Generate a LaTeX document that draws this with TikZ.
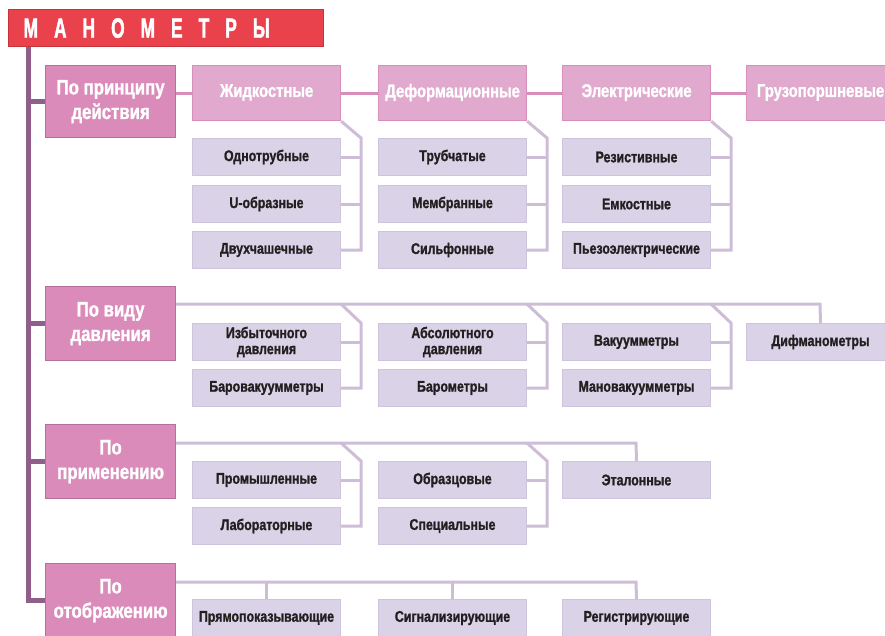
\documentclass[tikz,border=0pt]{standalone}
\usepackage{fontspec}
\setmainfont{Liberation Sans}[FakeStretch=0.8, BoldFeatures={FakeBold=1.2}]
\newfontfamily\titlefont{Liberation Sans}[FakeStretch=0.62, BoldFeatures={FakeBold=1.5}]
\usetikzlibrary{backgrounds}
\definecolor{titleF}{HTML}{E9424C}
\definecolor{titleB}{HTML}{C8323C}
\definecolor{catF}{HTML}{DB8BBA}
\definecolor{catB}{HTML}{B5709B}
\definecolor{typF}{HTML}{E0A9CD}
\definecolor{typB}{HTML}{D98FBB}
\definecolor{typL}{HTML}{D98DBA}
\definecolor{subF}{HTML}{DAD3E7}
\definecolor{subB}{HTML}{CEC4DE}
\definecolor{subL}{HTML}{CDBDD7}
\definecolor{trunkC}{HTML}{8F5F8A}
\definecolor{subT}{HTML}{231F20}
\newcommand\ls{\hspace{16pt}}
\tikzset{
  titlebox/.style={draw=titleB, fill=titleF, line width=1.2pt, minimum width=315pt, minimum height=37pt,
    anchor=north west, inner xsep=15pt, inner ysep=0pt, text width=285pt, align=left, text=white,
    font=\titlefont\bfseries\fontsize{28}{28}\selectfont},
  catbox/.style={draw=catB, fill=catF, line width=1.2pt, minimum width=130pt, minimum height=74pt,
    anchor=north west, inner sep=0pt, text=white, align=center,
    font=\bfseries\fontsize{21}{24.5}\selectfont},
  typbox/.style={draw=typB, fill=typF, line width=1.2pt, minimum width=148pt, minimum height=55pt,
    anchor=north west, inner sep=0pt, text=white, font=\bfseries\fontsize{18.5}{18}\selectfont},
  subbox/.style={draw=subB, fill=subF, line width=1pt, minimum width=148pt, minimum height=37pt,
    anchor=north west, inner sep=0pt, text=subT, align=center,
    font=\bfseries\fontsize{15.5}{16}\selectfont},
  trunk/.style={draw=trunkC, line width=5pt},
  tline/.style={draw=typL, line width=3pt},
  sline/.style={draw=subL, line width=3pt},
}
\begin{document}
\begin{tikzpicture}[x=1pt,y=-1pt]
\useasboundingbox (0,0) rectangle (885,635);
\clip (0,0) rectangle (885,635);

\node[titlebox] (title) at (8,9) {М\ls А\ls Н\ls О\ls М\ls Е\ls Т\ls Р\ls Ы};

% categories
\node[catbox, minimum height=72pt] (c1) at (45,65) {По принципу\\действия};
\node[catbox] (c2) at (45,286) {По виду\\давления};
\node[catbox] (c3) at (45,424) {По\\применению};
\node[catbox] (c4) at (45,563) {По\\отображению};

% section 1
\node[typbox] (t1) at (192,65) {\raisebox{5pt}{Жидкостные}};
\node[typbox] (t2) at (378,65) {\raisebox{5pt}{Деформационные}};
\node[typbox] (t3) at (562,65) {\raisebox{5pt}{Электрические}};
\node[typbox] (t4) at (746,65) {\raisebox{5pt}{Грузопоршневые}};

\node[subbox] (z11) at (192,138) {Однотрубные};
\node[subbox] (z12) at (192,185) {U-образные};
\node[subbox] (z13) at (192,231) {Двухчашечные};
\node[subbox] (z21) at (378,138) {Трубчатые};
\node[subbox] (z22) at (378,185) {Мембранные};
\node[subbox] (z23) at (378,231) {Сильфонные};
\node[subbox] (z31) at (562,138) {Резистивные};
\node[subbox] (z32) at (562,185) {Емкостные};
\node[subbox] (z33) at (562,231) {Пьезоэлектрические};

% section 2
\node[subbox] (a1) at (192,323) {Избыточного\\давления};
\node[subbox] (a2) at (192,369) {Баровакуумметры};
\node[subbox] (b1) at (378,323) {Абсолютного\\давления};
\node[subbox] (b2) at (378,369) {Барометры};
\node[subbox] (v1) at (562,323) {Вакуумметры};
\node[subbox] (v2) at (562,369) {Мановакуумметры};
\node[subbox] (d4) at (746,323) {Дифманометры};

% section 3
\node[subbox] (e1) at (192,461) {Промышленные};
\node[subbox] (e2) at (192,507) {Лабораторные};
\node[subbox] (f1) at (378,461) {Образцовые};
\node[subbox] (f2) at (378,507) {Специальные};
\node[subbox] (g1) at (562,461) {Эталонные};

% section 4
\node[subbox] (p1) at (192,599) {Прямопоказывающие};
\node[subbox] (p2) at (378,599) {Сигнализирующие};
\node[subbox] (p3) at (562,599) {Регистрирующие};

\coordinate (tr) at ([xshift=20pt]title.south west);
\coordinate (r2) at (820,304);
\coordinate (r3) at (636,443);
\coordinate (r4) at (636,582);

\begin{scope}[on background layer]
% trunk
\draw[trunk] (tr) |- (c4.west);
\draw[trunk] (tr |- c1.west) -- (c1.west);
\draw[trunk] (tr |- c2.west) -- (c2.west);
\draw[trunk] (tr |- c3.west) -- (c3.west);

% section 1
\draw[tline] (c1.east |- t1.west) -- (t1.west);
\draw[tline] (t1.east) -- (t2.west);
\draw[tline] (t2.east) -- (t3.west);
\draw[tline] (t3.east) -- (t4.west);
\foreach \i in {1,2,3}{
  \draw[sline] (t\i.south east) -- ([xshift=20pt]z\i1.north east) |- (z\i3.east);
  \draw[sline] (z\i1.east) -- ++(20pt,0);
  \draw[sline] (z\i2.east) -- ++(20pt,0);
}

% section 2
\draw[sline] (c2.east |- r2) -- (r2) -- (d4.north);
\draw[sline] (a1.north east |- r2) -- ([xshift=20pt]a1.north east) |- (a2.east);
\draw[sline] (a1.east) -- ++(20pt,0);
\draw[sline] (b1.north east |- r2) -- ([xshift=20pt]b1.north east) |- (b2.east);
\draw[sline] (b1.east) -- ++(20pt,0);
\draw[sline] (v1.north east |- r2) -- ([xshift=20pt]v1.north east) |- (v2.east);
\draw[sline] (v1.east) -- ++(20pt,0);

% section 3
\draw[sline] (c3.east |- r3) -- (r3) -- (g1.north);
\draw[sline] (e1.north east |- r3) -- ([xshift=20pt]e1.north east) |- (e2.east);
\draw[sline] (e1.east) -- ++(20pt,0);
\draw[sline] (f1.north east |- r3) -- ([xshift=20pt]f1.north east) |- (f2.east);
\draw[sline] (f1.east) -- ++(20pt,0);

% section 4
\draw[sline] (c4.east |- r4) -- (r4) -- (p3.north);
\draw[sline] (p1.north |- r4) -- (p1.north);
\draw[sline] (p2.north |- r4) -- (p2.north);
\end{scope}
\end{tikzpicture}
\end{document}
